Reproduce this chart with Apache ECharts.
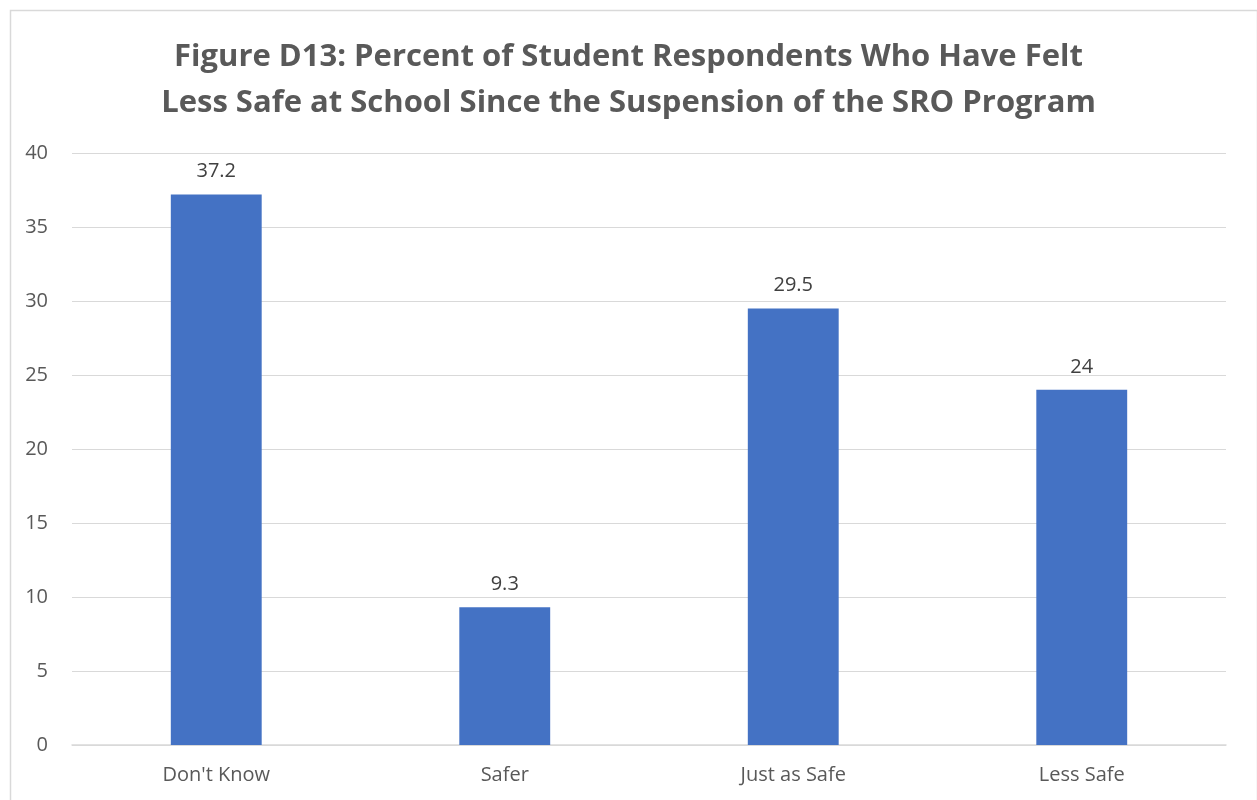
<!DOCTYPE html>
<html><head><meta charset="utf-8">
<script src="https://cdn.jsdelivr.net/npm/echarts@6/dist/echarts.min.js"></script>
<style>html,body{margin:0;padding:0;background:#fff}#c{width:1257px;height:800px}</style>
</head><body><div id="c"></div>
<script>
const categories = ["Don't Know", "Safer", "Just as Safe", "Less Safe"];
const values = [37.2, 9.3, 29.5, 24];
const yTicks = [0, 5, 10, 15, 20, 25, 30, 35, 40];
const titleText = "Figure D13: Percent of Student Respondents Who Have Felt\nLess Safe at School Since the Suspension of the SRO Program";

const chart = echarts.init(document.getElementById('c'), null, {renderer: 'canvas'});
chart.setOption({
  animation: false,
  backgroundColor: '#ffffff',
  graphic: [{
    type: 'rect', left: 8, top: 8,
    shape: {width: 1247, height: 800},
    style: {fill: 'none', stroke: '#d9d9d9', lineWidth: 1.5},
    z: -1
  }],
  title: {
    text: titleText,
    left: 'center', top: 29,
    textStyle: {fontFamily: 'Open Sans', fontWeight: 'bold', fontSize: 31, color: '#595959', lineHeight: 46}
  },
  grid: {left: 72, right: 31, top: 153, bottom: 55, containLabel: false},
  xAxis: {
    type: 'category', data: categories,
    axisLine: {show: true, lineStyle: {color: '#d9d9d9', width: 1.5}},
    axisTick: {show: false},
    axisLabel: {fontFamily: 'Open Sans', fontSize: 20, color: '#595959', margin: 20}
  },
  yAxis: {
    type: 'value', min: yTicks[0], max: yTicks[yTicks.length - 1], interval: 5,
    axisLine: {show: false}, axisTick: {show: false},
    splitLine: {lineStyle: {color: '#d9d9d9', width: 1.2}},
    axisLabel: {fontFamily: 'Open Sans', fontSize: 20, color: '#595959', margin: 24}
  },
  series: [{
    type: 'bar', data: values, barWidth: '31.5%',
    itemStyle: {color: '#4472c4'},
    label: {show: true, position: 'top', distance: 13, fontFamily: 'Open Sans', fontSize: 20, color: '#404040'}
  }]
});
</script></body></html>
